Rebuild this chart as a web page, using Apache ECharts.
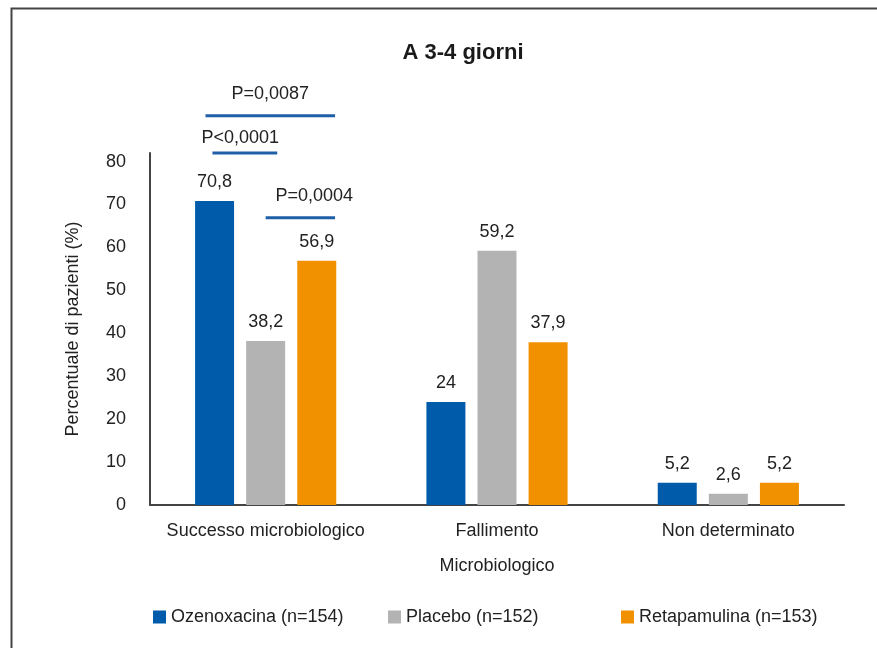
<!DOCTYPE html>
<html><head><meta charset="utf-8">
<script src="https://cdn.jsdelivr.net/npm/echarts@6/dist/echarts.min.js"></script>
<style>html,body{margin:0;padding:0;background:#fff}#c{width:877px;height:648px}</style>
</head><body><div id="c"></div>
<script>
const categories = ['Successo microbiologico', 'Fallimento', 'Non determinato'];
const seriesNames = ['Ozenoxacina (n=154)', 'Placebo (n=152)', 'Retapamulina (n=153)'];
const ozenoxacina = [70.8, 24, 5.2];
const placebo = [38.2, 59.2, 2.6];
const retapamulina = [56.9, 37.9, 5.2];
const yMin = 0, yTop = 82, yInterval = 10;
// p-value brackets, in axis units (category i spans i..i+1 on the hidden x axis)
const pLabels = ['P=0,0087', 'P<0,0001', 'P=0,0004'];
const pLineStart = [0.24, 0.27, 0.50];
const pLineEnd = [0.80, 0.55, 0.80];
const pLineY = [90.7, 82.0, 66.9];
const pTextX = [0.52, 0.39, 0.71];
const pTextY = [95.8, 85.5, 71.9];

const FONT = "'Liberation Sans', Arial, Helvetica, sans-serif";
const TXT = '#222';
const colors = ['#005BAA', '#B3B3B3', '#F29100'];
const values = [ozenoxacina, placebo, retapamulina];
const fmt = v => String(v).replace('.', ',');

const chart = echarts.init(document.getElementById('c'));
const barSeries = seriesNames.map((n, i) => ({
  name: n, type: 'bar', data: values[i], barWidth: 39, barGap: '31%',
  itemStyle: {color: colors[i]},
  label: {show: true, position: 'top', distance: 10, color: TXT, fontSize: 18, fontFamily: FONT,
    formatter: p => fmt(p.value)}
}));
const lineSeries = pLabels.map((t, i) => ({
  type: 'line', xAxisIndex: 1, yAxisIndex: 0, clip: false, symbol: 'none', silent: true,
  data: [[pLineStart[i], pLineY[i]], [pLineEnd[i], pLineY[i]]],
  lineStyle: {color: '#1F5FA8', width: 3}
}));
const textSeries = {
  type: 'scatter', xAxisIndex: 1, yAxisIndex: 0, clip: false, symbolSize: 0, silent: true,
  itemStyle: {opacity: 1},
  data: pLabels.map((t, i) => ({value: [pTextX[i], pTextY[i]], label: {formatter: t}})),
  label: {show: true, position: 'inside', color: TXT, fontSize: 18, fontFamily: FONT}
};
const legendLeft = [148, 383, 616];
chart.setOption({
  backgroundColor: '#fff',
  animation: false,
  textStyle: {fontFamily: FONT},
  title: {text: 'A 3-4 giorni', left: 458, textAlign: 'center', top: 37,
    textStyle: {fontSize: 22, fontWeight: 'bold', color: '#1a1a1a', fontFamily: FONT}},
  legend: seriesNames.map((n, i) => ({
    data: [n], left: legendLeft[i], top: 603, icon: 'rect', itemWidth: 13, itemHeight: 13, itemGap: 5,
    textStyle: {fontSize: 18, color: TXT, fontFamily: FONT}
  })),
  grid: {left: 150, right: 33, top: 153, bottom: 143},
  xAxis: [{
    type: 'category', data: categories,
    axisLine: {lineStyle: {color: '#444', width: 2}}, axisTick: {show: false},
    axisLabel: {fontSize: 18, color: TXT, margin: 17, interval: 0},
    name: 'Microbiologico', nameLocation: 'middle', nameGap: 52,
    nameTextStyle: {fontSize: 18, color: TXT}
  }, {
    type: 'value', min: 0, max: 3, show: false
  }],
  yAxis: {
    type: 'value', min: yMin, max: yTop, interval: yInterval,
    axisLine: {show: true, lineStyle: {color: '#444', width: 2}}, axisTick: {show: false},
    splitLine: {show: false},
    axisLabel: {fontSize: 18, color: TXT, margin: 24, formatter: v => (v % 10 === 0 ? String(v) : '')},
    name: 'Percentuale di pazienti (%)', nameLocation: 'middle', nameGap: 68,
    nameTextStyle: {fontSize: 18, color: TXT}
  },
  graphic: [{type: 'rect', left: 9, top: 6, shape: {width: 900, height: 700},
    style: {fill: 'none', stroke: '#444', lineWidth: 2}, silent: true}],
  series: [...barSeries, ...lineSeries, textSeries]
});
</script></body></html>
